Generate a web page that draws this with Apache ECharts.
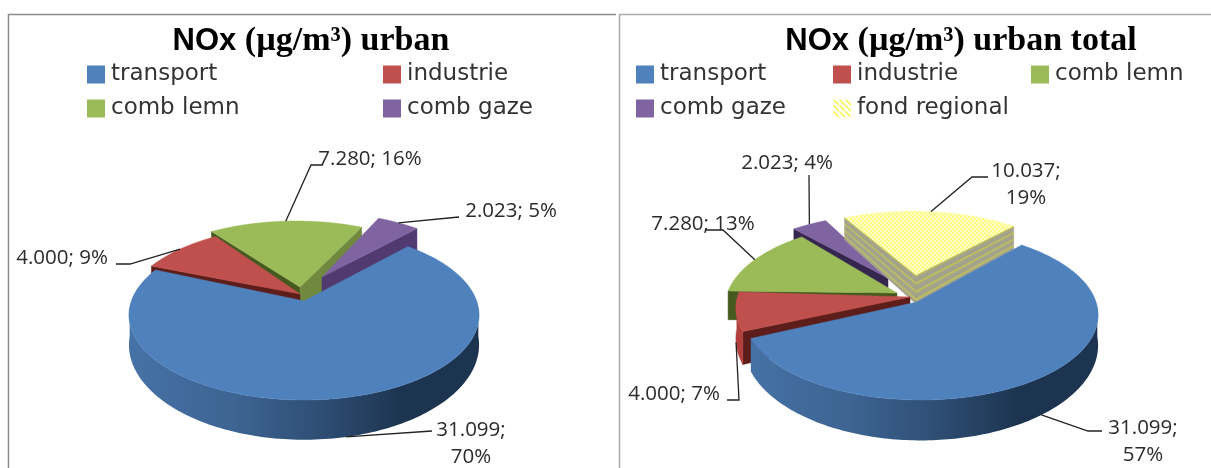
<!DOCTYPE html>
<html>
<head>
<meta charset="utf-8">
<title>NOx urban</title>
<script src="https://cdn.jsdelivr.net/npm/echarts@6/dist/echarts.min.js"></script>
<style>
    html, body { margin: 0; padding: 0; background: #fff; }
    #chart { width: 1211px; height: 468px; }
</style>
</head>
<body>
<div id="chart"></div>
<script>
let categories = ['transport', 'industrie', 'comb lemn', 'comb gaze', 'fond regional'];

let urbanValues = [31.099, 4.000, 7.280, 2.023];
let urbanPercents = [70, 9, 16, 5];

let totalValues = [31.099, 4.000, 7.280, 2.023, 10.037];
let totalPercents = [57, 7, 13, 4, 19];

let colors = ['#4F81BD', '#C0504D', '#9BBB59', '#8064A2', '#FFFF99'];

function makePattern(size, paint) {
    let c = document.createElement('canvas');
    c.width = size;
    c.height = size;
    paint(c.getContext('2d'));
    return { image: c, repeat: 'repeat' };
}

// dotted yellow for the top of the last slice
let dotFill = makePattern(4, function (g) {
    g.fillStyle = '#FFFFC0';
    g.fillRect(0, 0, 4, 4);
    g.fillStyle = '#FBFB8A';
    g.fillRect(0, 0, 2, 2);
    g.fillRect(2, 2, 2, 2);
});
// diagonal stripes for the legend key
let stripeFill = makePattern(6, function (g) {
    g.fillStyle = '#FFFFFF';
    g.fillRect(0, 0, 6, 6);
    g.fillStyle = '#F5F53C';
    for (let i = 0; i < 6; i++) {
        g.fillRect(i, i, 2, 1);
    }
});

let blueWall = function (x0, x1) {
    return {
        type: 'linear', global: true, x: x0, y: 0, x2: x1, y2: 0,
        colorStops: [
            { offset: 0, color: '#4672A6' },
            { offset: 0.3, color: '#3D6492' },
            { offset: 0.55, color: '#2E4E74' },
            { offset: 0.78, color: '#1D3450' },
            { offset: 1, color: '#1D3450' }
        ]
    };
};

let stripes = [
    [0, 0.07, '#BDBD52'], [0.07, 0.27, '#A3A38B'], [0.27, 0.34, '#BDBD52'], [0.34, 0.55, '#A3A38B'],
    [0.55, 0.62, '#BDBD52'], [0.62, 0.82, '#A3A38B'], [0.82, 0.89, '#BDBD52'], [0.89, 1, '#A3A38B']
];

// pie geometry, wall colours and label places for both panels
let urbanChart = {
    title: '{n|NOx}{s| (µg/m³) urban}', titleX: 311,
    values: urbanValues, percents: urbanPercents,
    cx: 304, cy: 301, a: 173, b: 83, k: 0.153, depth: 28.5, start: 42,
    order: [2, 3, 1, 0],
    rimShift: [[0, 1], [-4, -3], [-8, -8], [9, -17]],
    apexShift: [[0, 0], [-4, -7], [-4, -14], [18, -24]],
    walls: [
        [null, null, null],
        ['#5C1D1B', null, '#8C2F2D'],
        ['#46591F', '#71893F', '#5A6F2F'],
        [null, '#503A70', '#5B4480']
    ],
    leaders: [
        [[432, 431]],
        [[130, 264], [116, 264]],
        [[311, 165], [323, 165]],
        [[459, 217]]
    ],
    labels: [[471, 444], [62, 258], [370, 159], [511, 211]],
    legend: [[87, 63], [383, 63], [87, 97], [383, 97]]
};

let totalChart = {
    title: '{n|NOx}{s| (µg/m³) urban total}', titleX: 961,
    values: totalValues, percents: totalPercents,
    cx: 920, cy: 302, a: 175, b: 83, k: 0.153, depth: 29, start: 40,
    order: [3, 4, 2, 1, 0],
    rimShift: [[1, 0], [-7, -7], [-18, -8], [-26, -16], [-7, -19]],
    apexShift: [[-3, 0], [-10, -5], [-23, -9], [-32, -24], [-4, -27]],
    walls: [
        [null, null, null],
        ['#5C1D1B', null, '#B23F3C'],
        ['#46591F', null, '#4B5F26'],
        ['#352650', null, '#4A3768'],
        ['stripes', 'stripes', '#A3A38B']
    ],
    leaders: [
        [[1088, 431], [1102, 431]],
        [[739, 400], [727, 400]],
        [[723, 230], [706, 230]],
        [[809, 175]],
        [[972, 177], [988, 177]]
    ],
    labels: [[1143, 442], [674, 394], [703, 224], [787, 163], [1026, 185]],
    legend: [[636, 63], [833, 63], [1031, 63], [636, 97], [833, 97]]
};

function rim(chart, angle, shift) {
    let r = angle * Math.PI / 180;
    let u = Math.sin(r);
    let v = -Math.cos(r);
    let w = 1 - chart.k * v;
    return {
        x: chart.cx + chart.a * u / w + shift[0],
        y: chart.cy + chart.b * v / w + shift[1],
        d: chart.depth / (w * w),
        v: v
    };
}

function poly(points, fill) {
    return {
        type: 'polygon',
        shape: { points: points },
        style: { fill: fill, stroke: typeof fill === 'string' ? fill : null, lineWidth: 0.5 }
    };
}

function cutFace(p, q, fill, out) {
    if (fill === 'stripes') {
        stripes.forEach(function (s) {
            out.push(poly([
                [p.x, p.y + p.d * s[0]], [q.x, q.y + q.d * s[0]],
                [q.x, q.y + q.d * s[1]], [p.x, p.y + p.d * s[1]]
            ], s[2]));
        });
    } else {
        out.push(poly([[p.x, p.y], [q.x, q.y], [q.x, q.y + q.d], [p.x, p.y + p.d]], fill));
    }
}

function makeSlice(chart, index) {
    return function (params, api) {
        let total = chart.values.reduce(function (s, n) { return s + n; }, 0);
        let a0 = chart.start + api.value(0) / total * 360;
        let a1 = chart.start + api.value(1) / total * 360;
        let shift = chart.rimShift[index];
        let apexShift = chart.apexShift[index];
        let apex = { x: chart.cx + apexShift[0], y: chart.cy + apexShift[1], d: chart.depth };
        let walls = chart.walls[index];
        let children = [];

        let top = [[apex.x, apex.y]];
        let front = [];
        for (let i = 0; i <= 200; i++) {
            let p = rim(chart, a0 + (a1 - a0) * i / 200, shift);
            top.push([p.x, p.y]);
            if (p.v > 0.05) front.push(p);
        }

        // cut faces and rim are only drawn when they turn towards the viewer
        if (Math.sin(a0 * Math.PI / 180) < 0 && walls[0]) {
            cutFace(apex, rim(chart, a0, shift), walls[0], children);
        }
        if (Math.sin(a1 * Math.PI / 180) > 0 && walls[1]) {
            cutFace(apex, rim(chart, a1, shift), walls[1], children);
        }
        if (front.length > 1) {
            let wall = front.map(function (p) { return [p.x, p.y]; });
            for (let i = front.length - 1; i >= 0; i--) {
                wall.push([front[i].x, front[i].y + front[i].d]);
            }
            let fill = walls[2] || blueWall(chart.cx - chart.a, chart.cx + chart.a);
            children.push(poly(wall, fill));
        }

        let topFill = index === 4 ? dotFill : colors[index];
        children.push(poly(top, topFill));

        // leader starts on the rim at the middle of the slice
        let mid = rim(chart, (a0 + a1) / 2, shift);
        let line = [[mid.x, mid.v > 0.05 ? mid.y + mid.d : mid.y]].concat(chart.leaders[index]);
        children.push({
            type: 'polyline',
            z2: 5,
            shape: { points: line },
            style: { fill: null, stroke: '#222', lineWidth: 1.3 }
        });

        let value = api.value(1) - api.value(0);
        let text = value.toFixed(3) + '; ' + chart.percents[index] + '%';
        if (index === 0 || index === 4) {
            text = value.toFixed(3) + ';\n' + chart.percents[index] + '%';
        }
        children.push({
            type: 'text',
            z2: 6,
            style: {
                text: text,
                x: chart.labels[index][0],
                y: chart.labels[index][1],
                align: 'center',
                verticalAlign: 'middle',
                font: '20.5px "Open Sans"',
                lineHeight: 27,
                fill: '#2b2b2b'
            }
        });
        return { type: 'group', children: children };
    };
}

function buildSeries(chart) {
    let sum = [0];
    chart.values.forEach(function (n, i) { sum.push(sum[i] + n); });
    return chart.order.map(function (index, pos) {
        return {
            type: 'custom',
            name: categories[index],
            coordinateSystem: 'none',
            z: pos + 2,
            silent: true,
            animation: false,
            itemStyle: { color: colors[index] },
            data: [[sum[index], sum[index + 1]]],
            renderItem: makeSlice(chart, index)
        };
    });
}

function buildLegend(chart) {
    return chart.values.map(function (n, i) {
        return {
            left: chart.legend[i][0],
            top: chart.legend[i][1],
            padding: 0,
            itemWidth: 18,
            itemHeight: 18,
            itemGap: 0,
            selectedMode: false,
            data: [{
                name: categories[i],
                icon: 'rect',
                itemStyle: { color: i === 4 ? stripeFill : colors[i] }
            }],
            textStyle: {
                fontFamily: '"DejaVu Sans"',
                fontSize: 23,
                color: '#333',
                padding: [0, 0, 0, 1]
            }
        };
    });
}

function buildTitle(chart) {
    return {
        text: chart.title,
        left: chart.titleX,
        top: 24,
        padding: 0,
        textAlign: 'center',
        textStyle: {
            color: '#000',
            rich: {
                n: { fontFamily: '"Liberation Sans"', fontWeight: 'bold', fontSize: 31, color: '#000' },
                s: { fontFamily: '"Liberation Serif"', fontWeight: 'bold', fontSize: 34, color: '#000' }
            }
        }
    };
}

let myChart = echarts.init(document.getElementById('chart'), null, { renderer: 'canvas' });

let option = {
    backgroundColor: '#fff',
    animation: false,
    title: [buildTitle(urbanChart), buildTitle(totalChart)],
    legend: buildLegend(urbanChart).concat(buildLegend(totalChart)),
    series: buildSeries(urbanChart).concat(buildSeries(totalChart)),
    // panel frames
    graphic: [
        { type: 'polyline', shape: { points: [[8.5, 468], [8.5, 14.5], [616, 14.5]] }, style: { fill: null, stroke: '#8C8C8C', lineWidth: 1.5 } },
        { type: 'polyline', shape: { points: [[619.5, 468], [619.5, 14.5], [1211, 14.5]] }, style: { fill: null, stroke: '#ABABAB', lineWidth: 1.5 } }
    ]
};

myChart.setOption(option);
</script>
</body>
</html>
